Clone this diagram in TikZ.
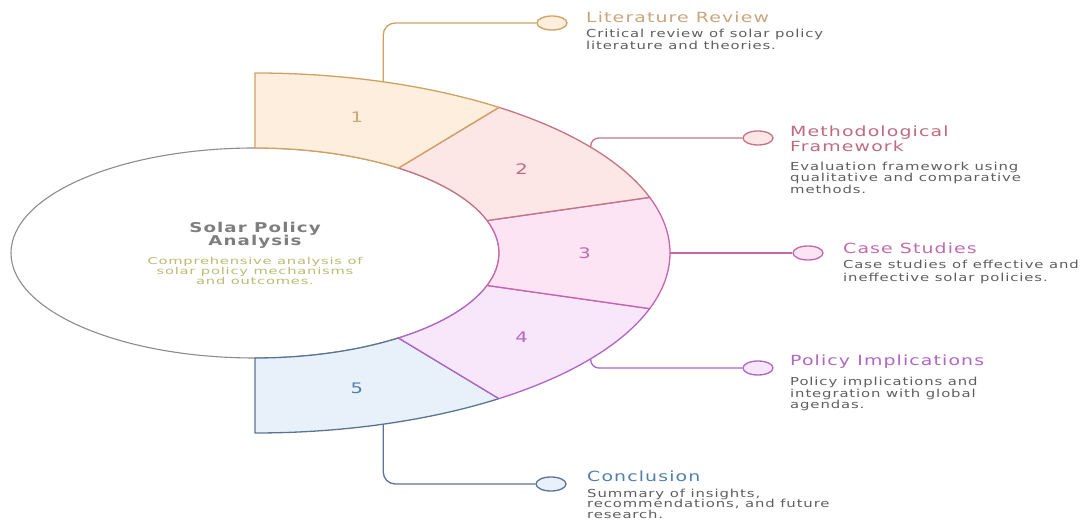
\documentclass[tikz,border=0pt]{standalone}
\usepackage{fontspec}
\setmainfont{DejaVu Sans}[FakeStretch=1.35,LetterSpace=8]
\usetikzlibrary{shapes.geometric,calc}
\definecolor{fA}{HTML}{FDEEDD}\definecolor{sA}{HTML}{D2A060}\definecolor{tA}{HTML}{C9A57A}
\definecolor{fB}{HTML}{FCE6E6}\definecolor{sB}{HTML}{C47484}\definecolor{tB}{HTML}{C06A7E}
\definecolor{fC}{HTML}{FCE4F4}\definecolor{sC}{HTML}{C864AC}\definecolor{tC}{HTML}{C46AAA}
\definecolor{fD}{HTML}{F8E6FA}\definecolor{sD}{HTML}{B064C4}\definecolor{tD}{HTML}{B066C4}
\definecolor{fE}{HTML}{E8F0FA}\definecolor{sE}{HTML}{5A7494}\definecolor{tE}{HTML}{4F7FAA}
\definecolor{hubline}{HTML}{8C8C8C}
\definecolor{hubtitle}{HTML}{7E7E7E}
\definecolor{hubdesc}{HTML}{BDBA72}
\definecolor{desc}{HTML}{5E5E5E}
\newcommand{\drawseg}[4]{%
  \draw[fill=#3, draw=#4, line width=1.3pt, line join=round]
    ($(C)+(#1:244pt and 105pt)$) -- ($(C)+(#1:415pt and 180pt)$)
    arc[start angle=#1, end angle=#2, x radius=415pt, y radius=180pt]
    -- ($(C)+(#2:244pt and 105pt)$)
    arc[start angle=#2, end angle=#1, x radius=244pt, y radius=105pt] -- cycle;}
\begin{document}
\begin{tikzpicture}[x=1pt,y=1pt,
  numlabel/.style={font=\fontsize{14.5}{14.5}\selectfont, inner sep=0},
  dot/.style={ellipse, minimum width=30pt, minimum height=14pt, inner sep=0, line width=1.3pt},
  conn/.style={line width=1.3pt},
  ttl/.style={anchor=west, inner sep=0, align=left, font=\fontsize{14}{15}\selectfont},
  dsc/.style={anchor=north west, inner sep=0, align=left, text=desc, font=\fontsize{11}{11.5}\selectfont}]
\useasboundingbox (0,0) rectangle (1084,521);
\coordinate (C) at (255,268);
\node[ellipse, draw=hubline, fill=white, minimum width=488pt, minimum height=210pt, inner sep=0, line width=1.1pt] (hub) at (C) {};
\drawseg{-54}{-90}{fE}{sE}
\drawseg{-18}{-54}{fD}{sD}
\drawseg{18}{-18}{fC}{sC}
\drawseg{54}{18}{fB}{sB}
\drawseg{90}{54}{fA}{sA}
\node[numlabel, text=tA] (n1) at ($(C)+(72:329.5pt and 142.5pt)$) {1};
\node[numlabel, text=tB] (n2) at ($(C)+(36:329.5pt and 142.5pt)$) {2};
\node[numlabel, text=tC] (n3) at ($(C)+(0:329.5pt and 142.5pt)$) {3};
\node[numlabel, text=tD] (n4) at ($(C)+(-36:329.5pt and 142.5pt)$) {4};
\node[numlabel, text=tE] (n5) at ($(C)+(-72:329.5pt and 142.5pt)$) {5};
\node[align=center, inner sep=0, text=hubtitle, font=\bfseries\fontsize{13.5}{13.5}\selectfont] (hubt) at (255,285.5) {Solar Policy\\Analysis};
\node[align=center, inner sep=0, text=hubdesc, font=\fontsize{9.5}{10}\selectfont\addfontfeatures{FakeStretch=1.55}] (hubd) at (255,250.5) {Comprehensive analysis of\\solar policy mechanisms\\and outcomes.};
\coordinate (o1) at ($(C)+(72:415pt and 180pt)$);
\coordinate (o2) at ($(C)+(36:415pt and 180pt)$);
\coordinate (o3) at ($(C)+(0:415pt and 180pt)$);
\coordinate (o4) at ($(C)+(-36:415pt and 180pt)$);
\coordinate (o5) at ($(C)+(-72:415pt and 180pt)$);
\node[dot, draw=sA, fill=fA] (d1) at (552,498) {};
\node[dot, draw=sB, fill=fB] (d2) at (758,383) {};
\node[dot, draw=sC, fill=fC] (d3) at (808,268) {};
\node[dot, draw=sD, fill=fD] (d4) at (758,153) {};
\node[dot, draw=sE, fill=fE] (d5) at (551,37) {};
\draw[conn, draw=sA, rounded corners=12pt] (o1) |- (d1.west);
\draw[conn, draw=sB, rounded corners=8pt] (o2) |- (d2.west);
\draw[conn, draw=sC] (o3) -- (d3.west);
\draw[conn, draw=sD, rounded corners=8pt] (o4) |- (d4.west);
\draw[conn, draw=sE, rounded corners=12pt] (o5) |- (d5.west);
\node[ttl, text=tA] (t1) at (586,503.5) {Literature Review};
\node[dsc] (s1) at (586,492) {Critical review of solar policy\\literature and theories.};
\node[ttl, text=tB] (t2) at (790,382.5) {Methodological\\Framework};
\node[dsc] (s2) at (790,359.5) {Evaluation framework using\\qualitative and comparative\\methods.};
\node[ttl, text=tC] (t3) at (843,273) {Case Studies};
\node[dsc, font=\fontsize{11}{12.5}\selectfont] (s3) at (843,261) {Case studies of effective and\\ineffective solar policies.};
\node[ttl, text=tD] (t4) at (790,159) {Policy Implications};
\node[dsc] (s4) at (790,144) {Policy implications and\\integration with global\\agendas.};
\node[ttl, text=tE] (t5) at (587,45) {Conclusion};
\node[dsc, font=\fontsize{11}{10.8}\selectfont] (s5) at (587,32.5) {Summary of insights,\\recommendations, and future\\research.};
\end{tikzpicture}
\end{document}
